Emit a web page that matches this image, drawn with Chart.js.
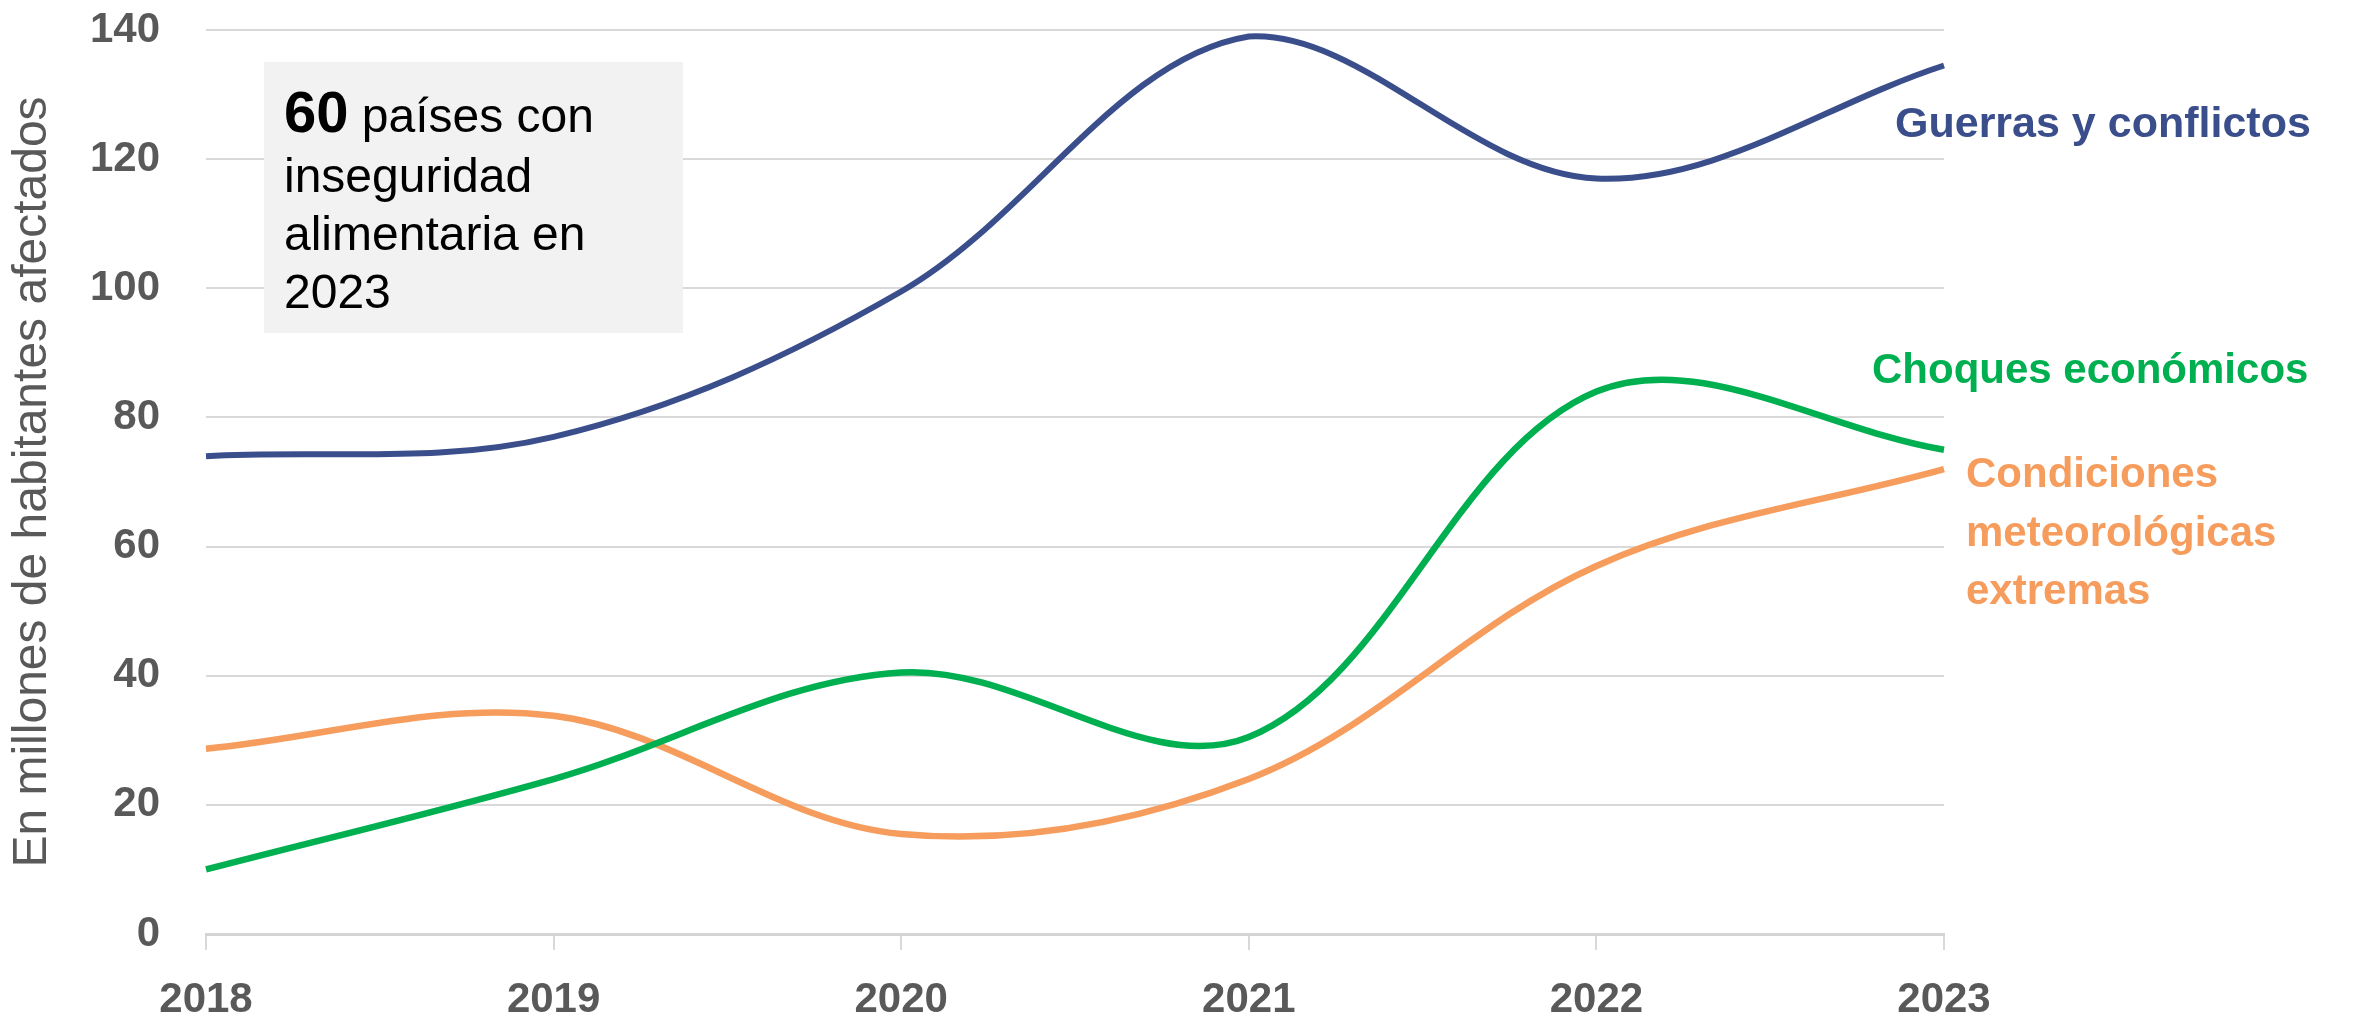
<!DOCTYPE html>
<html lang="es">
<head>
<meta charset="utf-8">
<title>Inseguridad alimentaria por causa</title>
<script src="https://cdn.jsdelivr.net/npm/chart.js@4.4.1/dist/chart.umd.min.js"></script>
<style>
  html, body { margin: 0; padding: 0; background: #fff; }
  #wrap { position: relative; width: 2354px; height: 1015px; }
</style>
</head>
<body>
<div id="wrap"><canvas id="chart"></canvas></div>
<script>
// --- DATA (millones de habitantes) ---
const years = ['2018', '2019', '2020', '2021', '2022', '2023'];
const conflictos = [74, 77, 99.5, 139, 117, 134.5];
const choques = [10, 24, 40.5, 30.5, 84, 75];
const meteo = [28.7, 33.8, 15.5, 24, 57, 72];
const yTicks = [0, 20, 40, 60, 80, 100, 120, 140];

const BLUE = '#3b4e8c';
const GREEN = '#00b050';
const ORANGE = '#f69c5c';
const GREY = '#595959';
const FONT = '"Liberation Sans", Arial, sans-serif';

// grey note box + line labels drawn straight on the canvas
const notes = {
    id: 'notes',
    beforeDatasetsDraw(chart) {
        const ctx = chart.ctx;
        ctx.save();
        ctx.fillStyle = '#f2f2f2';
        ctx.fillRect(264, 62, 419, 271);
        ctx.fillStyle = '#000';
        ctx.textBaseline = 'alphabetic';
        ctx.textAlign = 'left';
        ctx.font = 'bold 58px ' + FONT;
        ctx.fillText('60', 284, 132);
        const w = ctx.measureText('60').width;
        ctx.font = '48px ' + FONT;
        ctx.fillText(' países con', 284 + w, 132);
        ctx.fillText('inseguridad', 284, 192);
        ctx.fillText('alimentaria en', 284, 250);
        ctx.fillText('2023', 284, 308);
        ctx.restore();
    },
    afterDatasetsDraw(chart) {
        const ctx = chart.ctx;
        ctx.save();
        ctx.textBaseline = 'alphabetic';
        ctx.textAlign = 'left';
        ctx.font = 'bold 43px ' + FONT;
        ctx.fillStyle = BLUE;
        ctx.fillText('Guerras y conflictos', 1895, 137);
        ctx.font = 'bold 42px ' + FONT;
        ctx.fillStyle = GREEN;
        ctx.fillText('Choques económicos', 1872, 383);
        ctx.fillStyle = ORANGE;
        ctx.fillText('Condiciones', 1966, 487);
        ctx.fillText('meteorológicas', 1966, 546);
        ctx.fillText('extremas', 1966, 604);
        ctx.restore();
    }
};

new Chart(document.getElementById('chart'), {
    type: 'line',
    data: {
        labels: years,
        datasets: [
            { label: 'Guerras y conflictos', data: conflictos, borderColor: BLUE, borderWidth: 6 },
            { label: 'Choques económicos', data: choques, borderColor: GREEN, borderWidth: 6.5 },
            { label: 'Condiciones meteorológicas extremas', data: meteo, borderColor: ORANGE, borderWidth: 6.5 }
        ]
    },
    options: {
        responsive: true,
        maintainAspectRatio: false,
        animation: false,
        layout: { padding: { left: 0, top: 30, right: 410, bottom: 0 } },
        elements: {
            line: { tension: 0.35, fill: false },
            point: { radius: 0, hoverRadius: 0 }
        },
        plugins: {
            legend: { display: false },
            tooltip: { enabled: false }
        },
        scales: {
            x: {
                offset: false,
                grid: { drawOnChartArea: false, drawTicks: true, tickLength: 16, color: '#d9d9d9', lineWidth: 2 },
                border: { color: '#d4d4d4', width: 3 },
                ticks: { color: GREY, padding: 29, maxRotation: 0, font: { family: FONT, size: 42, weight: 'bold', lineHeight: 1 } },
                afterFit(scale) { scale.height = 81; }
            },
            y: {
                min: 0,
                max: 140,
                afterBuildTicks(scale) { scale.ticks = yTicks.map(v => ({ value: v })); },
                grid: { drawTicks: false, color: '#d9d9d9', lineWidth: 2 },
                border: { display: false },
                ticks: { color: GREY, padding: 46, font: { family: FONT, size: 42, weight: 'bold' } },
                title: {
                    display: true,
                    text: 'En millones de habitantes afectados',
                    color: GREY,
                    padding: { top: 4, bottom: 0 },
                    font: { family: FONT, size: 48 }
                },
                afterFit(scale) {
                    scale.width = 206;
                    scale.paddingTop = 0;    // keep the 140 line at the top padding
                    scale.paddingBottom = 0;
                }
            }
        }
    },
    plugins: [notes]
});
</script>
</body>
</html>
